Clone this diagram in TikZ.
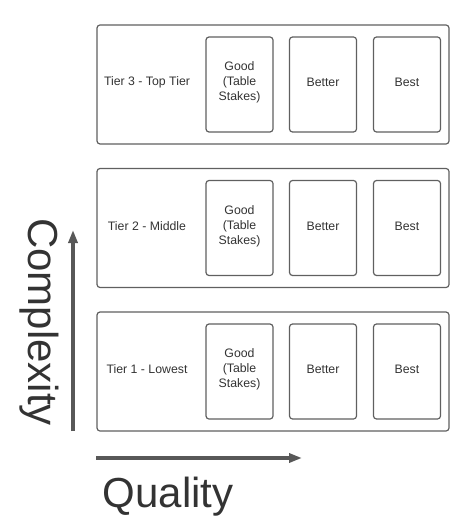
\documentclass[tikz,border=0pt]{standalone}
\usepackage{fontspec}
\setmainfont{Liberation Sans}
\usetikzlibrary{arrows.meta}
\definecolor{linec}{HTML}{606060}
\definecolor{textc}{HTML}{333333}
\definecolor{arrc}{HTML}{585858}
\begin{document}
\begin{tikzpicture}[x=1bp,y=-1bp,
  tier/.style={draw=linec,line width=1.2bp,rounded corners=3bp,minimum width=352bp,minimum height=119bp,inner sep=0pt},
  card/.style={draw=linec,line width=1.2bp,rounded corners=3bp,minimum width=67bp,minimum height=95bp,inner sep=0pt},
  cardtext/.style={text=textc,align=center,inner sep=0pt,font=\fontsize{12.3bp}{15bp}\selectfont},
  lbl/.style={text=textc,font=\fontsize{12.3bp}{15bp}\selectfont,inner sep=0pt},
  axis/.style={draw=arrc,line width=3.5bp,-{Triangle[length=13bp,width=9bp]}},
  big/.style={text=textc,font=\fontsize{42bp}{48bp}\selectfont,inner sep=0pt}]
\useasboundingbox (0,0) rectangle (474,531);
% tiers
\foreach \n/\y/\t in {3/84.5/Tier 3 - Top Tier, 2/228/Tier 2 - Middle, 1/371.5/Tier 1 - Lowest}{
  \node[tier] (tier\n) at (273,\y) {};
  \node[lbl] (lab\n) at (147,\y-2) {\t};
  \node[card] (good\n) at (239.5,\y) {};
  \node[card] (better\n) at (323,\y) {};
  \node[card] (best\n) at (407,\y) {};
  \node[cardtext] (goodt\n) at (239.5,\y-2) {Good\\(Table\\Stakes)};
  \node[cardtext] (bettert\n) at (323,\y-2) {Better};
  \node[cardtext] (bestt\n) at (407,\y-2) {Best};
}
% axes
\coordinate (vs) at (73,431);
\coordinate (ve) at (73,230);
\coordinate (hs) at (96,458);
\coordinate (he) at (302,458);
\draw[axis] (vs) -- (ve);
\draw[axis] (hs) -- (he);
\node[big,rotate=-90] (complexity) at (39,322) {Complexity};
\node[big,anchor=base] (quality) at (168,507) {Quality};
\end{tikzpicture}
\end{document}
